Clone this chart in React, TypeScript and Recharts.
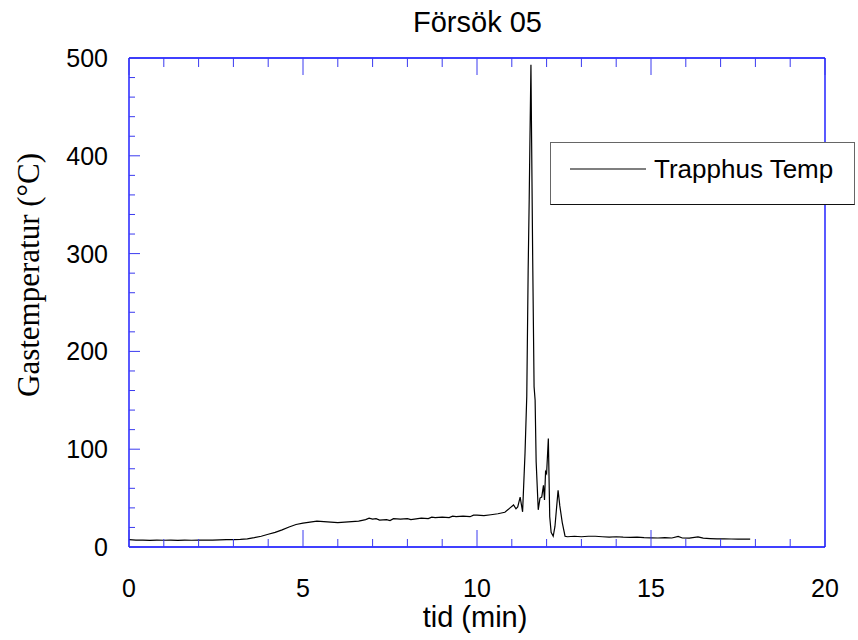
import { LineChart, Line, XAxis, YAxis } from 'recharts';

// time (min) and gas temperature (°C)
const minutes = [
  0, 0.2, 0.4, 0.6, 0.8, 1.0, 1.2, 1.4, 1.6, 1.8, 2.0, 2.2, 2.4, 2.6, 2.8, 3.0, 3.2, 3.4, 3.6, 3.8,
  4.0, 4.2, 4.4, 4.6, 4.8, 5.0, 5.2, 5.4, 5.6, 5.8, 6.0, 6.2, 6.4, 6.6, 6.8, 6.9, 7.0, 7.1, 7.2, 7.4,
  7.5, 7.6, 7.8, 8.0, 8.1, 8.2, 8.4, 8.6, 8.7, 8.8, 9.0, 9.2, 9.3, 9.4, 9.6, 9.8, 9.9, 10.0, 10.2,
  10.4, 10.6, 10.8, 10.95, 11.05, 11.12, 11.17, 11.24, 11.31, 11.38, 11.43, 11.47, 11.5, 11.52,
  11.55, 11.57, 11.6, 11.64, 11.67, 11.7, 11.76, 11.81, 11.86, 11.91, 11.94, 11.97, 12.0, 12.05,
  12.09, 12.13, 12.19, 12.24, 12.33, 12.38, 12.45, 12.53, 12.6, 12.8, 13.0, 13.2, 13.4, 13.6, 13.8,
  14.0, 14.2, 14.4, 14.6, 14.8, 15.0, 15.2, 15.4, 15.6, 15.78, 15.9, 16.1, 16.35, 16.5, 16.7, 16.9,
  17.1, 17.3, 17.5, 17.7, 17.85,
];
const trapphusTemp = [
  7.5, 7, 7, 6.8, 7, 6.9, 7, 6.8, 7, 6.9, 7, 7, 7.1, 7.3, 7.5, 7.6, 7.8, 8.3, 9.5, 11,
  13, 15, 17.5, 20.5, 23, 24.5, 25.5, 26.5, 26, 25.5, 25, 25.5, 26, 26.5, 28, 29.5, 28.5, 29, 27.5, 28,
  27, 29, 28.5, 29, 28, 28.5, 29.5, 29, 30.5, 30, 30.5, 30, 31.5, 31, 31.5, 31, 32.5, 32.5, 32,
  33, 34, 35.5, 40, 43, 39, 41, 51, 36, 96, 154, 283, 355, 413,
  493, 413, 296, 164, 150, 87, 38, 50, 51, 63, 48, 77, 75, 111,
  31, 15, 11, 21, 58, 42, 25, 11, 10.5, 11, 10.5, 11, 11, 10.5, 10,
  10.5, 10, 9.8, 10, 9.5, 9.3, 9.2, 9.5, 9.2, 10.8, 9.2, 9, 10.3, 9, 8.6, 8.3,
  8.4, 8.2, 8, 8, 8,
];
const xTicks = [0, 1, 2, 3, 4, 5, 6, 7, 8, 9, 10, 11, 12, 13, 14, 15, 16, 17, 18, 19, 20];
const yTicks = [
  0, 20, 40, 60, 80, 100, 120, 140, 160, 180, 200, 220, 240, 260, 280, 300, 320, 340, 360, 380,
  400, 420, 440, 460, 480, 500,
];

const data = minutes.map((t, i) => ({ t, temp: trapphusTemp[i] }));

const FRAME = '#0000ff';
const TICK = '#3a3af0';
const SANS = '"Liberation Sans", Arial, Helvetica, sans-serif';
const SERIF = '"Liberation Serif", "Times New Roman", serif';

const BottomTick = (props: any) => {
  const { x, y, payload } = props;
  const major = payload.value % 5 === 0;
  return (
    <g>
      <line x1={x} y1={y} x2={x} y2={y - (major ? 17 : 8)} stroke={TICK} />
      {major && (
        <text x={x} y={y + 50} textAnchor="middle" fontFamily={SANS} fontSize={25} fill="#000">
          {payload.value}
        </text>
      )}
    </g>
  );
};

const TopTick = (props: any) => {
  const { x, y, payload } = props;
  const major = payload.value % 5 === 0;
  return <line x1={x} y1={y} x2={x} y2={y + (major ? 17 : 9)} stroke={TICK} />;
};

const LeftTick = (props: any) => {
  const { x, y, payload } = props;
  const major = payload.value % 100 === 0;
  return (
    <g>
      <line x1={x} y1={y} x2={x + (major ? 11 : 6)} y2={y} stroke={TICK} />
      {major && (
        <text x={x - 21} y={y} dy="0.36em" textAnchor="end" fontFamily={SANS} fontSize={25} fill="#000">
          {payload.value}
        </text>
      )}
    </g>
  );
};

const RightTick = (props: any) => {
  const { x, y, payload } = props;
  const major = payload.value % 100 === 0;
  return <line x1={x} y1={y} x2={x - (major ? 11 : 7)} y2={y} stroke={TICK} />;
};

export default function App() {
  return (
    <div style={{ position: 'absolute', left: 0, top: 0, width: 858, height: 640, background: '#fff' }}>
      <div
        style={{
          position: 'absolute', left: 0, width: 955, top: 8, textAlign: 'center',
          fontFamily: SANS, fontSize: 29, lineHeight: '29px', color: '#000',
        }}
      >
        Försök 05
      </div>

      <LineChart width={858} height={640} data={data} margin={{ top: 57, right: 32, bottom: 92, left: 128 }}>
        <XAxis
          xAxisId="b" dataKey="t" type="number" domain={[0, 20]} ticks={xTicks} interval={0}
          height={1} tickSize={0} tickMargin={0} tickLine={false} tick={BottomTick}
          axisLine={{ stroke: FRAME, strokeWidth: 1.3 }}
        />
        <XAxis
          xAxisId="t" orientation="top" dataKey="t" type="number" domain={[0, 20]} ticks={xTicks}
          interval={0} height={1} tickSize={0} tickMargin={0} tickLine={false} tick={TopTick}
          axisLine={{ stroke: FRAME, strokeWidth: 1.3 }}
        />
        <YAxis
          yAxisId="l" type="number" domain={[0, 500]} ticks={yTicks} interval={0} width={1}
          tickSize={0} tickMargin={0} tickLine={false} tick={LeftTick}
          axisLine={{ stroke: FRAME, strokeWidth: 1.3 }}
        />
        <YAxis
          yAxisId="r" orientation="right" type="number" domain={[0, 500]} ticks={yTicks} interval={0}
          width={1} tickSize={0} tickMargin={0} tickLine={false} tick={RightTick}
          axisLine={{ stroke: FRAME, strokeWidth: 1.3 }}
        />
        <Line
          xAxisId="b" yAxisId="l" type="linear" dataKey="temp" stroke="#000" strokeWidth={1.2}
          dot={false} isAnimationActive={false}
        />
      </LineChart>

      <div
        style={{
          position: 'absolute', left: 28, top: 275, transform: 'translate(-50%, -50%) rotate(-90deg)',
          whiteSpace: 'nowrap', fontFamily: SERIF, fontSize: 31, lineHeight: '31px', color: '#000',
        }}
      >
        Gastemperatur (°C)
      </div>

      <div
        style={{
          position: 'absolute', left: 0, width: 950, top: 603, textAlign: 'center',
          fontFamily: SANS, fontSize: 29, lineHeight: '29px', color: '#000',
        }}
      >
        tid (min)
      </div>

      <div
        style={{
          position: 'absolute', left: 550, top: 142, width: 305, height: 63, boxSizing: 'border-box',
          background: '#fff', border: '1px solid #666', borderBottom: '1px solid #111',
          display: 'flex', alignItems: 'center', paddingBottom: 9,
        }}
      >
        <svg width={103} height={4} style={{ flex: 'none' }}>
          <line x1={19} y1={2} x2={95} y2={2} stroke="#000" strokeWidth={1.2} />
        </svg>
        <span style={{ fontFamily: SANS, fontSize: 26, lineHeight: '26px', color: '#000' }}>Trapphus Temp</span>
      </div>
    </div>
  );
}
